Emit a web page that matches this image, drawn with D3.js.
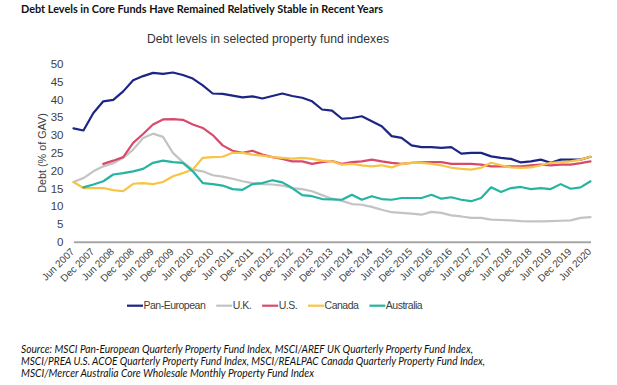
<!DOCTYPE html>
<html>
<head>
<meta charset="utf-8">
<script src="https://cdn.jsdelivr.net/npm/d3@7"></script>
<style>
  html, body { margin: 0; padding: 0; background: #fff; }
  svg { display: block; }
</style>
</head>
<body>
<svg id="chart" width="617" height="385"></svg>
<script>
// ---------------- data ----------------
const quarters = [
  "Jun 2007","Sep 2007","Dec 2007","Mar 2008","Jun 2008","Sep 2008","Dec 2008","Mar 2009",
  "Jun 2009","Sep 2009","Dec 2009","Mar 2010","Jun 2010","Sep 2010","Dec 2010","Mar 2011",
  "Jun 2011","Sep 2011","Dec 2011","Mar 2012","Jun 2012","Sep 2012","Dec 2012","Mar 2013",
  "Jun 2013","Sep 2013","Dec 2013","Mar 2014","Jun 2014","Sep 2014","Dec 2014","Mar 2015",
  "Jun 2015","Sep 2015","Dec 2015","Mar 2016","Jun 2016","Sep 2016","Dec 2016","Mar 2017",
  "Jun 2017","Sep 2017","Dec 2017","Mar 2018","Jun 2018","Sep 2018","Dec 2018","Mar 2019",
  "Jun 2019","Sep 2019","Dec 2019","Mar 2020","Jun 2020"
];
const xTickLabels = [
  "Jun 2007","Dec 2007","Jun 2008","Dec 2008","Jun 2009","Dec 2009","Jun 2010","Dec 2010",
  "Jun 2011","Dec 2011","Jun 2012","Dec 2012","Jun 2013","Dec 2013","Jun 2014","Dec 2014",
  "Jun 2015","Dec 2015","Jun 2016","Dec 2016","Jun 2017","Dec 2017","Jun 2018","Dec 2018",
  "Jun 2019","Dec 2019","Jun 2020"
];
const yTicks = [0, 5, 10, 15, 20, 25, 30, 35, 40, 45, 50];

const panEuropean = [31.9,31.3,36.2,39.5,39.9,42.3,45.4,46.6,47.5,47.2,47.6,46.9,45.9,44.0,
  41.7,41.6,41.1,40.6,40.9,40.3,41.0,41.7,41.0,40.5,39.5,37.2,36.9,34.6,34.8,35.3,33.9,32.5,
  29.7,29.2,27.1,26.6,26.6,26.4,26.6,24.8,25.0,25.0,24.0,23.6,23.3,22.3,22.6,23.1,22.2,23.1,
  23.1,23.1,23.9];
const uk = [16.8,17.9,19.8,21.2,22.1,23.6,25.9,29.2,30.4,29.5,25.0,22.4,20.3,19.8,18.7,18.3,
  17.7,17.0,16.5,16.2,16.1,15.8,15.1,14.8,14.2,13.1,12.1,11.5,10.6,10.4,9.8,9.0,8.3,8.1,7.9,
  7.6,8.4,8.1,7.4,7.1,6.7,6.7,6.2,6.1,6.0,5.8,5.7,5.7,5.8,5.9,6.0,6.7,6.9];
const us = [null,null,null,21.9,22.8,23.8,27.8,30.3,33.0,34.4,34.5,34.3,33.0,32.0,30.0,27.1,
  25.6,25.0,25.6,24.5,23.8,23.3,22.6,22.6,21.9,22.4,22.7,21.9,22.4,22.6,23.1,22.6,22.2,21.9,
  22.2,22.3,22.4,22.4,21.9,21.9,21.9,21.7,21.2,21.2,21.2,21.2,21.5,21.7,21.5,21.7,21.7,22.1,22.6];
const canada = [16.8,15.1,15.1,15.1,14.5,14.2,16.3,16.5,16.2,16.8,18.4,19.3,20.3,23.6,23.8,
  23.9,25.0,25.0,24.5,24.2,23.8,23.6,23.4,23.6,23.3,22.8,22.6,21.7,21.9,21.5,21.2,21.5,20.9,
  21.9,22.2,22.2,21.9,21.5,20.8,20.5,20.3,20.8,22.2,21.5,20.9,20.8,20.9,21.5,22.2,22.4,22.6,23.1,23.9];
const australia = [null,15.3,16.1,17.0,18.9,19.3,19.8,20.5,22.2,22.8,22.4,22.2,19.8,16.5,16.2,
  15.8,14.8,14.6,16.2,16.5,17.3,16.7,15.1,13.1,12.8,12.0,11.9,11.8,13.2,11.8,12.8,12.0,11.8,
  12.3,12.3,12.3,13.2,12.1,12.5,11.8,11.4,12.3,15.3,14.0,15.1,15.4,14.8,15.1,14.8,16.2,14.9,15.3,17.0];

const seriesNames = ["Pan-European", "U.K.", "U.S.", "Canada", "Australia"];
const seriesValues = [panEuropean, uk, us, canada, australia];
const seriesColors = ["#1B2584", "#C3C3C3", "#D84A6C", "#F7C445", "#25B4A2"];

const mainTitle = "Debt Levels in Core Funds Have Remained Relatively Stable in Recent Years";
const chartTitle = "Debt levels in selected property fund indexes";
const yAxisTitle = "Debt (% of GAV)";
const sourceLines = [
  "Source: MSCI Pan-European Quarterly Property Fund Index, MSCI/AREF UK Quarterly Property Fund Index,",
  "MSCI/PREA U.S. ACOE Quarterly Property Fund Index, MSCI/REALPAC Canada Quarterly Property Fund Index,",
  "MSCI/Mercer Australia Core Wholesale Monthly Property Fund Index"
];

// ---------------- drawing ----------------
const svg = d3.select("#chart");
const font = "Arial, 'Liberation Sans', sans-serif";

const x = d3.scalePoint().domain(quarters).range([73.5, 590.5]);
const y = d3.scaleLinear().domain([0, 50]).range([241.7, 64]);

// titles
svg.append("text")
  .attr("x", 21).attr("y", 12.5)
  .attr("font-family", "Lato, 'Open Sans', sans-serif")
  .attr("font-weight", "bold").attr("font-size", 11.5)
  .attr("fill", "#111")
  .attr("textLength", 362).attr("lengthAdjust", "spacingAndGlyphs")
  .text(mainTitle);

svg.append("text")
  .attr("x", 268).attr("y", 43)
  .attr("text-anchor", "middle")
  .attr("font-family", font).attr("font-size", 12.5)
  .attr("fill", "#333")
  .attr("textLength", 242).attr("lengthAdjust", "spacingAndGlyphs")
  .text(chartTitle);

// y axis
const yAxis = svg.append("g")
  .attr("transform", "translate(73.5,0)")
  .call(d3.axisLeft(y).tickValues(yTicks).tickSize(0).tickPadding(10).tickFormat(d3.format("d")));
yAxis.select(".domain").remove();
yAxis.selectAll("text")
  .attr("font-family", font).attr("font-size", 11.5).attr("fill", "#404040");

svg.append("text")
  .attr("transform", "translate(46,153) rotate(-90)")
  .attr("text-anchor", "middle")
  .attr("font-family", font).attr("font-size", 10.8).attr("fill", "#404040")
  .text(yAxisTitle);

// x axis
const xAxis = svg.append("g")
  .attr("transform", "translate(0,241.7)")
  .call(d3.axisBottom(x).tickValues(xTickLabels).tickSize(0).tickSizeOuter(0));
xAxis.select(".domain").attr("stroke", "#A6A6A6").attr("stroke-width", 2);
xAxis.selectAll("text")
  .attr("x", 0).attr("y", 0).attr("dy", 0)
  .attr("text-anchor", "end")
  .attr("transform", "translate(1,10.5) rotate(-45)")
  .attr("font-family", font).attr("font-size", 10).attr("fill", "#404040");

// lines
const line = d3.line()
  .defined(d => d.v !== null)
  .x(d => x(d.q))
  .y(d => y(d.v));

seriesValues.forEach((vals, i) => {
  svg.append("path")
    .datum(vals.map((v, j) => ({ q: quarters[j], v: v })))
    .attr("fill", "none")
    .attr("stroke", seriesColors[i])
    .attr("stroke-width", 2.2)
    .attr("stroke-linejoin", "round")
    .attr("stroke-linecap", "round")
    .attr("d", line);
});

// legend
const legend = svg.append("g").attr("transform", "translate(127,305.7)");
let lx = 0;
seriesNames.forEach((name, i) => {
  legend.append("line")
    .attr("x1", lx).attr("x2", lx + 16)
    .attr("y1", 0).attr("y2", 0)
    .attr("stroke", seriesColors[i]).attr("stroke-width", 2.2);
  const t = legend.append("text")
    .attr("x", lx + 16.5).attr("y", 0).attr("dy", "0.35em")
    .attr("font-family", font).attr("font-size", 10.5)
    .attr("letter-spacing", -0.5)
    .attr("fill", "#404040")
    .text(name);
  lx += 16.5 + t.node().getComputedTextLength() + 11;
});

// source
const sourceWidths = [452, 464, 293];
sourceLines.forEach((s, i) => {
  svg.append("text")
    .attr("x", 21).attr("y", 353 + i * 12)
    .attr("font-family", "Lato, 'Open Sans', sans-serif")
    .attr("font-style", "italic").attr("font-size", 11)
    .attr("fill", "#111")
    .attr("textLength", sourceWidths[i]).attr("lengthAdjust", "spacingAndGlyphs")
    .text(s);
});
</script>
</body>
</html>
